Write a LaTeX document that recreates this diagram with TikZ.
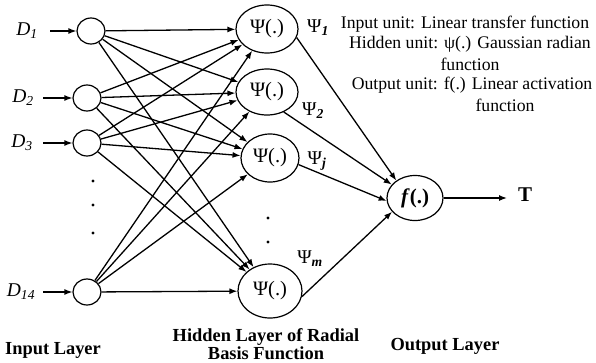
\documentclass[tikz,border=0pt]{standalone}
\usepackage{fontspec}
\setmainfont{Liberation Serif}
\usetikzlibrary{shapes.geometric,arrows.meta}
\begin{document}
\begin{tikzpicture}[x=1pt,y=-1pt,
  every node/.style={font=\fontsize{17}{20}\selectfont},
  unit/.style={draw,ellipse,line width=1.2pt,inner sep=0pt,font=\fontsize{20.5}{22}\selectfont},
  inp/.style={unit,minimum width=28pt,minimum height=26pt},
  arr/.style={-{Latex[length=8pt,width=6pt]},line width=1.3pt},
  lbl/.style={font=\fontsize{18.4}{21}\selectfont\bfseries,align=center},
  note/.style={font=\fontsize{17.7}{20}\selectfont,inner sep=0pt},
  dlab/.style={font=\fontsize{19.5}{22}\selectfont},
  plab/.style={font=\fontsize{19.5}{22}\selectfont},
  dot/.style={fill,circle,inner sep=0pt,minimum size=3.2pt}]
\useasboundingbox (0,0) rectangle (596,362);
% input nodes
\node[inp] (I1) at (91,31) {};
\node[inp] (I2) at (87,98) {};
\node[inp] (I3) at (87,143) {};
\node[inp] (I14) at (87,292) {};
% hidden nodes
\node[unit,minimum width=62pt,minimum height=48pt] (H1) at (267,29) {Ψ(.)};
\node[unit,minimum width=62pt,minimum height=46pt] (H2) at (267,92) {Ψ(.)};
\node[unit,minimum width=58pt,minimum height=48pt] (H3) at (270,158) {Ψ(.)};
\node[unit,minimum width=64pt,minimum height=54pt] (H4) at (270,291) {Ψ(.)};
% output node
\node[unit,minimum width=56pt,minimum height=45pt,font=\fontsize{21}{22}\selectfont] (F) at (415,198) {\textbf{\textit{f}}\textbf{(.)}};
% input arrows
\coordinate (d1) at (50,31);
\coordinate (d2) at (43,98);
\coordinate (d3) at (43,143);
\coordinate (d14) at (43,292);
\draw[arr] (d1) -- (I1);
\draw[arr] (d2) -- (I2);
\draw[arr] (d3) -- (I3);
\draw[arr] (d14) -- (I14);
\node[dlab] (D1) at (27,31) {\textit{D}\textsubscript{\textit{1}}};
\node[dlab] (D2) at (23,98) {\textit{D}\textsubscript{\textit{2}}};
\node[dlab] (D3) at (22,143) {\textit{D}\textsubscript{\textit{3}}};
\node[dlab] (D14) at (21,292) {\textit{D}\textsubscript{\textit{14}}};
% full connections
\foreach \i in {I1,I2,I3,I14}{
  \foreach \h in {H1,H2,H3,H4}{
    \draw[arr] (\i) -- (\h);
  }
}
% hidden to output
\draw[arr] (H1.-16) -- (F.137);
\draw[arr] (H2.-50) -- (F.150);
\draw[arr] (H3.-13) -- (F.186);
\draw[arr] (H4.-10) -- (F.211);
% output arrow
\coordinate (tout) at (507,198);
\draw[arr] (F) -- (tout);
\node[font=\fontsize{21}{22}\selectfont\bfseries] (T) at (525,195) {T};
% psi labels
\node[plab] (P1) at (318,28) {Ψ\textsubscript{\textbf{\textit{1}}}};
\node[plab] (P2) at (313,111) {Ψ\textsubscript{\textbf{\textit{2}}}};
\node[plab] (Pj) at (317,161) {Ψ\textsubscript{\textbf{\textit{j}}}};
\node[plab] (Pm) at (310,259) {Ψ\textsubscript{\textbf{\textit{m}}}};
% dots
\node[dot] (a1) at (93,181) {};
\node[dot] (a2) at (93,205) {};
\node[dot] (a3) at (93,233) {};
\node[dot] (b1) at (268,218) {};
\node[dot] (b2) at (268,242) {};
% notes
\node[note] (n1) at (465,24) {Input unit: Linear transfer function};
\node[note] (n2) at (470,44) {Hidden unit: ψ(.) Gaussian radian};
\node[note] (n3) at (470,64) {function};
\node[note] (n4) at (472,85) {Output unit: f(.) Linear activation};
\node[note] (n5) at (505,105) {function};
% layer labels
\node[lbl] (L1) at (53,350) {Input Layer};
\node[lbl] (L2) at (266,344) {Hidden Layer of Radial\\[-3pt]Basis Function};
\node[lbl] (L3) at (445,346) {Output Layer};
\end{tikzpicture}
\end{document}
